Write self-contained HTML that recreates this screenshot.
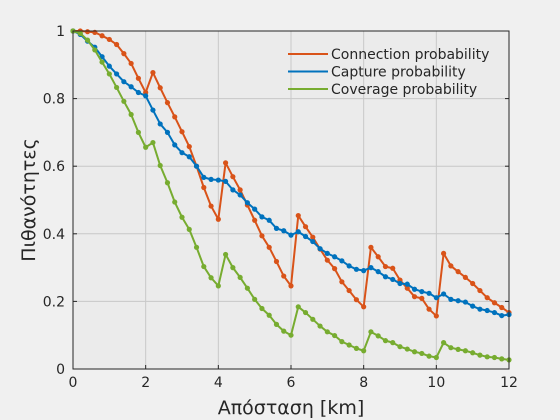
<!DOCTYPE html>
<html><head><meta charset="utf-8"><style>
html,body{margin:0;padding:0;background:#f0f0f0;}
svg{display:block;font-family:"DejaVu Sans","Liberation Sans",sans-serif;}
</style></head><body>
<svg id="chart" width="560" height="420" viewBox="0 0 560 420" xmlns="http://www.w3.org/2000/svg">
<rect x="0" y="0" width="560" height="420" fill="#f0f0f0"/>
<rect x="73" y="31" width="436" height="338" fill="#ebebeb"/>
<g id="grid"></g>
<g id="series"></g>
<rect x="73" y="31" width="436" height="338" fill="none" stroke="#262626" stroke-width="1"/>
<g id="ticks"></g>
<text x="291" y="414" font-size="19" text-anchor="middle" fill="#262626">Απόσταση [km]</text>
<text transform="translate(35,200) rotate(-90)" font-size="19" text-anchor="middle" fill="#262626">Πιθανότητες</text>
<g id="legend"></g>
</svg>
<script>
const xTicks = [0, 2, 4, 6, 8, 10, 12];
const yTicks = [0, 0.2, 0.4, 0.6, 0.8, 1];
const yTickLabels = ["0", "0.2", "0.4", "0.6", "0.8", "1"];
const distances = [0,0.2,0.4,0.6,0.8,1,1.2,1.4,1.6,1.8,2,2.2,2.4,2.6,2.8,3,3.2,3.4,3.6,3.8,4,4.2,4.4,4.6,4.8,5,5.2,5.4,5.6,5.8,6,6.2,6.4,6.6,6.8,7,7.2,7.4,7.6,7.8,8,8.2,8.4,8.6,8.8,9,9.2,9.4,9.6,9.8,10,10.2,10.4,10.6,10.8,11,11.2,11.4,11.6,11.8,12];
const connection = [1,1,0.998,0.996,0.986,0.975,0.96,0.933,0.904,0.86,0.818,0.877,0.832,0.788,0.746,0.702,0.658,0.6,0.537,0.482,0.443,0.61,0.569,0.53,0.485,0.44,0.394,0.36,0.318,0.275,0.246,0.454,0.421,0.39,0.355,0.322,0.297,0.258,0.232,0.205,0.184,0.36,0.332,0.303,0.298,0.263,0.239,0.214,0.209,0.177,0.157,0.342,0.305,0.288,0.271,0.253,0.232,0.211,0.196,0.182,0.167];
const capture = [1,0.99,0.97,0.952,0.924,0.896,0.873,0.85,0.835,0.818,0.808,0.766,0.725,0.7,0.663,0.64,0.628,0.6,0.567,0.561,0.559,0.555,0.53,0.515,0.492,0.473,0.45,0.44,0.416,0.409,0.396,0.406,0.392,0.377,0.356,0.342,0.332,0.32,0.305,0.295,0.291,0.3,0.288,0.273,0.265,0.253,0.251,0.236,0.229,0.224,0.211,0.222,0.206,0.202,0.198,0.186,0.177,0.173,0.167,0.158,0.161];
const coverage = [1,0.993,0.973,0.944,0.908,0.873,0.833,0.792,0.753,0.7,0.656,0.67,0.602,0.551,0.494,0.449,0.413,0.36,0.303,0.27,0.246,0.339,0.3,0.271,0.239,0.206,0.179,0.159,0.132,0.112,0.1,0.184,0.167,0.147,0.127,0.11,0.099,0.081,0.071,0.061,0.054,0.11,0.098,0.084,0.078,0.066,0.059,0.051,0.046,0.038,0.034,0.078,0.063,0.058,0.054,0.048,0.041,0.036,0.034,0.03,0.027];
const seriesNames = ["Connection probability", "Capture probability", "Coverage probability"];
const seriesColors = ["#d95319", "#0072bd", "#77ac30"];

const NS = "http://www.w3.org/2000/svg";
const X0 = 73, X1 = 509, Y0 = 369, Y1 = 31;
function xs(v){ return X0 + (v - 0) / 12 * (X1 - X0); }
function ys(v){ return Y0 - v * (Y0 - Y1); }
function mk(tag, attrs, parent){ const e = document.createElementNS(NS, tag); for (const k in attrs) e.setAttribute(k, attrs[k]); parent.appendChild(e); return e; }

const grid = document.getElementById('grid');
const ticks = document.getElementById('ticks');
xTicks.forEach(t => {
  const g = mk('line', {x1: xs(t), x2: xs(t), y1: Y1, y2: Y0, stroke: '#c8c8c8', 'stroke-width': 1}, grid);
  
  
  const tk = mk('line', {x1: xs(t), x2: xs(t), y1: Y0, y2: Y0 - 4, stroke: '#262626'}, ticks);
  
  
  const tl = mk('text', {x: xs(t), y: Y0 + 18, 'font-size': 14, 'text-anchor': 'middle', fill: '#262626'}, ticks);
  tl.textContent = String(t);
  
  
});
yTicks.forEach((t, i) => {
  const g = mk('line', {x1: X0, x2: X1, y1: ys(t), y2: ys(t), stroke: '#c8c8c8', 'stroke-width': 1}, grid);
  
  
  const tk = mk('line', {x1: X0, x2: X0 + 4, y1: ys(t), y2: ys(t), stroke: '#262626'}, ticks);
  
  
  const tk2 = mk('line', {x1: X1, x2: X1 - 4, y1: ys(t), y2: ys(t), stroke: '#262626'}, ticks);
  
  
  const tl = mk('text', {x: X0 - 8, y: ys(t) + 5, 'font-size': 14, 'text-anchor': 'end', fill: '#262626'}, ticks);
  tl.textContent = yTickLabels[i];
  
  
});

const seriesG = document.getElementById('series');
[connection, capture, coverage].forEach((vals, si) => {
  const g = mk('g', {}, seriesG);
  
  
  const pts = vals.map((v, i) => xs(distances[i]).toFixed(2) + ',' + ys(v).toFixed(2)).join(' ');
  const pl = mk('polyline', {points: pts, fill: 'none', stroke: seriesColors[si], 'stroke-width': 2, 'stroke-linejoin': 'round'}, g);
  
  
  vals.forEach((v, i) => {
    const c = mk('circle', {cx: xs(distances[i]), cy: ys(v), r: 2.6, fill: seriesColors[si]}, g);
    
    
  });
});

const legend = document.getElementById('legend');
seriesNames.forEach((n, i) => {
  const y = 54 + i * 17.5;
  const l = mk('line', {x1: 288, x2: 328, y1: y, y2: y, stroke: seriesColors[i], 'stroke-width': 2}, legend);
  
  
  const t = mk('text', {x: 331, y: y + 5, 'font-size': 14, fill: '#262626'}, legend);
  t.textContent = n;
  
  
});
</script>
</body></html>
